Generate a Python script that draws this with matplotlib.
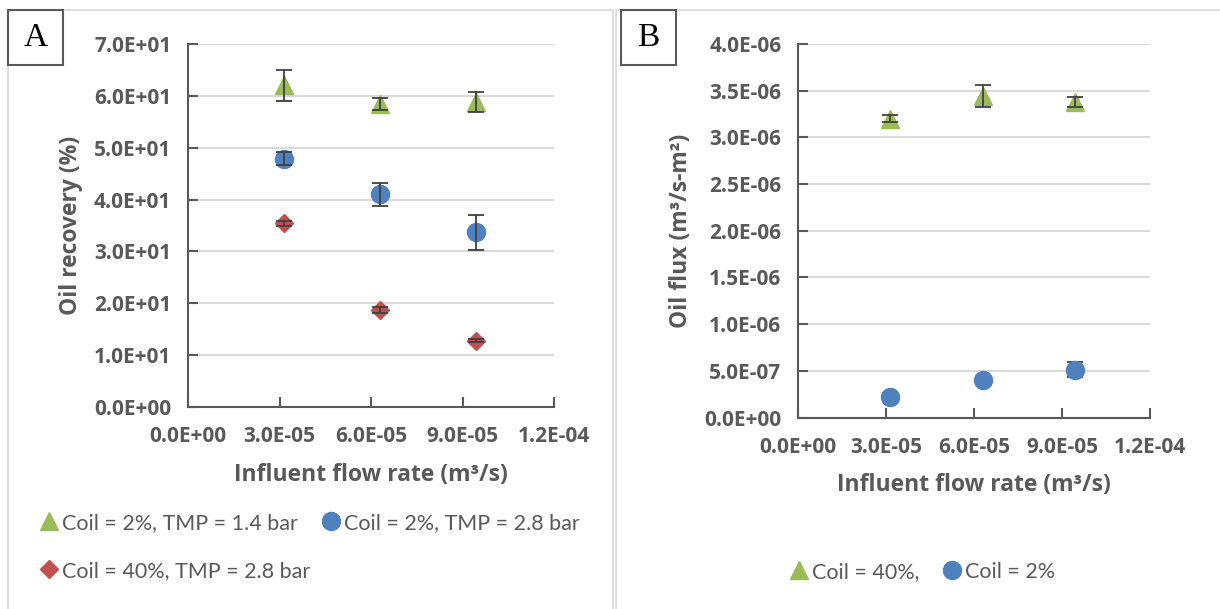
import matplotlib.pyplot as plt
from matplotlib import font_manager as fm
from matplotlib.patches import Rectangle

plt.rcParams['font.family'] = ['Open Sans', 'DejaVu Sans']

# flow rates (m3/s)
flow = [3.15e-5, 6.3e-5, 9.45e-5]
x_ticks = [0, 3e-5, 6e-5, 9e-5, 1.2e-4]

# panel A: oil recovery (%)
rec_2_14 = [62.0, 58.4, 58.8]
rec_2_14_err = [3.0, 1.1, 2.0]
rec_2_28 = [47.9, 41.0, 33.7]
rec_2_28_err = [1.3, 2.2, 3.4]
rec_40_28 = [35.4, 18.7, 12.8]
rec_40_28_err = [0.5, 0.6, 0.3]
yA_ticks = [0, 10, 20, 30, 40, 50, 60, 70]

# panel B: oil flux (m3/s-m2)
flux_40 = [3.20e-6, 3.44e-6, 3.38e-6]
flux_40_err = [0.04e-6, 0.12e-6, 0.05e-6]
flux_2 = [0.22e-6, 0.40e-6, 0.51e-6]
flux_2_err = [0.01e-6, 0.02e-6, 0.08e-6]
yB_ticks = [0, 0.5e-6, 1.0e-6, 1.5e-6, 2.0e-6, 2.5e-6, 3.0e-6, 3.5e-6, 4.0e-6]

green = '#9BBB59'
blue = '#4F81BD'
red = '#C0504D'
grey = '#595959'

tick_fp = fm.FontProperties(family='Open Sans', weight='bold', size=15)
lab_fp = fm.FontProperties(family='Open Sans', weight='bold', size=16.5)
leg_fp = fm.FontProperties(family='Lato', weight='normal', size=15.5)


def sci(vals):
    return [f"{v:.1E}" for v in vals]


fig = plt.figure(figsize=(12.2, 6.09), dpi=100)

# panel borders
fig.patches.append(Rectangle((8 / 1220, -0.1), (613 - 8) / 1220, 1.1 - 9.5 / 609,
                             transform=fig.transFigure, fill=False, ec='#d9d9d9', lw=1.2))
fig.patches.append(Rectangle((616 / 1220, -0.1), 0.6, 1.1 - 9.5 / 609,
                             transform=fig.transFigure, fill=False, ec='#d9d9d9', lw=1.2))

axA = fig.add_axes([188 / 1220, 1 - 407 / 609, 366 / 1220, 363 / 609])
axB = fig.add_axes([798 / 1220, 1 - 417.5 / 609, 352 / 1220, 373.5 / 609])


def style(ax, yticks):
    for s in ['top', 'right']:
        ax.spines[s].set_visible(False)
    for s in ['left', 'bottom']:
        ax.spines[s].set_color(grey)
        ax.spines[s].set_linewidth(1.5)
    ax.set_xlim(x_ticks[0], x_ticks[-1])
    ax.set_ylim(yticks[0], yticks[-1])
    ax.set_xticks(x_ticks, sci(x_ticks), fontproperties=tick_fp, color=grey)
    ax.set_yticks(yticks, sci(yticks), fontproperties=tick_fp, color=grey)
    ax.tick_params(direction='in', length=7, width=1.5, color=grey)
    ax.tick_params(axis='y', pad=12)
    ax.tick_params(axis='x', pad=14)
    ax.grid(axis='y', color='#d9d9d9', lw=1.5)
    ax.set_axisbelow(True)
    ax.set_xlabel('Influent flow rate (m³/s)', fontproperties=lab_fp,
                  color=grey, labelpad=11)


def series(ax, y, err, marker, color, ms, label, ez=4):
    ax.plot(flow, y, ls='none', marker=marker, color=color, ms=ms, zorder=3, label=label)
    ax.errorbar(flow, y, yerr=err, fmt='none', ecolor='#404040', elinewidth=1.3,
                capsize=6, capthick=1.3, zorder=ez)


# panel A
series(axA, rec_2_14, rec_2_14_err, '^', green, 13, 'Coil = 2%, TMP = 1.4 bar')
series(axA, rec_40_28, rec_40_28_err, 'D', red, 9.5, 'Coil = 40%, TMP = 2.8 bar')
series(axA, rec_2_28, rec_2_28_err, 'o', blue, 13, 'Coil = 2%, TMP = 2.8 bar')
style(axA, yA_ticks)
axA.set_ylabel('Oil recovery (%)', fontproperties=lab_fp, color=grey, labelpad=8)
legA = axA.legend(loc='upper left', bbox_to_anchor=(32 / 1220, 1 - 502 / 609),
                  bbox_transform=fig.transFigure, ncol=2, frameon=False, prop=leg_fp,
                  handlelength=0.6, handletextpad=0.3, columnspacing=0.65,
                  labelspacing=1.3, borderpad=0)
for t in legA.get_texts():
    t.set_color(grey)

# panel B
series(axB, flux_40, flux_40_err, '^', green, 13, 'Coil = 40%,')
series(axB, flux_2, flux_2_err, 'o', blue, 13, 'Coil = 2%', ez=2)
style(axB, yB_ticks)
axB.set_ylabel('Oil flux (m³/s-m²)', fontproperties=lab_fp, color=grey, labelpad=8)
legB = axB.legend(loc='upper left', bbox_to_anchor=(782 / 1220, 1 - 551 / 609),
                  bbox_transform=fig.transFigure, ncol=2, frameon=False, prop=leg_fp,
                  handlelength=0.6, handletextpad=0.3, columnspacing=1.2, borderpad=0)
for t in legB.get_texts():
    t.set_color(grey)

# panel letters
for x0, letter in [(8, 'A'), (621, 'B')]:
    fig.patches.append(Rectangle((x0 / 1220, 1 - 65 / 609), 55 / 1220, 55 / 609,
                                 transform=fig.transFigure, fill=False, ec=grey, lw=1.5))
    fig.text((x0 + 27.5) / 1220, 1 - 37.5 / 609, letter, ha='center', va='center',
             fontsize=24, family='Liberation Serif', color='black')

fig.savefig('out.png', dpi=100)
